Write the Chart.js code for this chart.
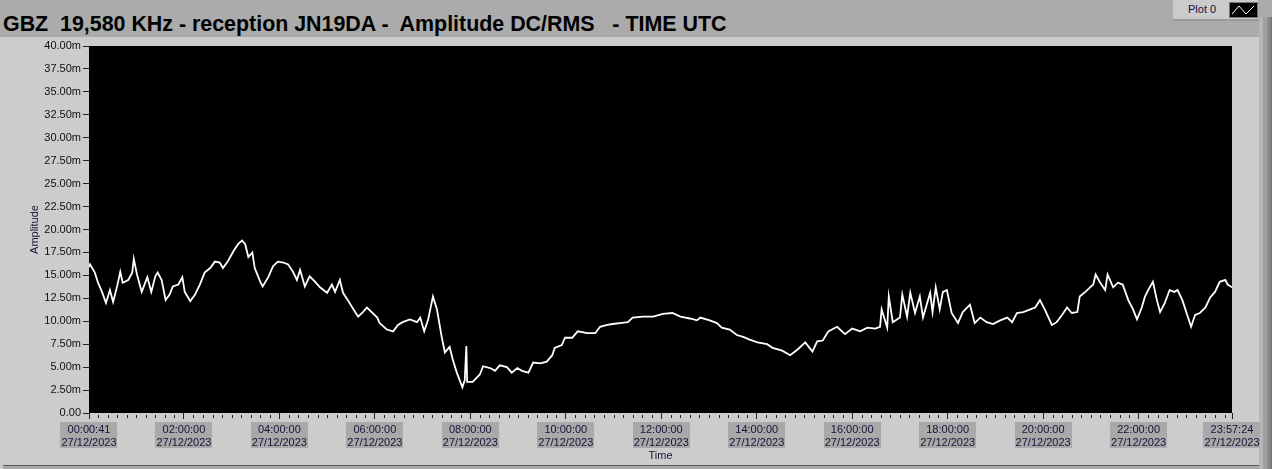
<!DOCTYPE html>
<html>
<head>
<meta charset="utf-8">
<script src="https://cdn.jsdelivr.net/npm/chart.js@4.4.1/dist/chart.umd.min.js"></script>
<style>
    body { margin: 0; width: 1272px; height: 469px; overflow: hidden; background: #cccccc; position: relative; font-family: "Liberation Sans", Arial, sans-serif; }
    #topbar { position: absolute; left: 0; top: 0; width: 1272px; height: 37px; background: #ababab; }
    #title { position: absolute; left: 3px; top: 12px; font-weight: bold; font-size: 21.4px; white-space: pre; color: #000; }
    #legendbox { position: absolute; left: 1173px; top: 0; width: 85px; height: 19px; background: #cbcbcb; border-bottom: 2px solid #9a9a9a; }
    #legendbox span { position: absolute; left: 15px; top: 3px; font-size: 11px; color: #101040; }
    #legendbox svg { position: absolute; left: 56px; top: 2px; }
    #rightstrip { position: absolute; left: 1259px; top: 17px; width: 13px; height: 452px; background: linear-gradient(to right, #b6b6b6 0 4px, #a0a0a0 4px 8px, #8c8c8c 8px 11px, #777 11px); }
    #bottomline { position: absolute; left: 3px; top: 465px; width: 1256px; height: 4px; background: linear-gradient(#5a5a5a 0 1px, #a8a8a8 1px); }
    #myChart { position: absolute; left: 0; top: 0; }
</style>
</head>
<body>
<div id="topbar"></div>
<div id="title">GBZ  19,580 KHz - reception JN19DA -  Amplitude DC/RMS   - TIME UTC</div>
<div id="legendbox"><span>Plot 0</span><svg width="29" height="16"><rect x="0.5" y="0.5" width="28" height="15" fill="#000" stroke="#777"/><polyline points="3,12 10,4 17,12 25,4" fill="none" stroke="#fff" stroke-width="1"/></svg></div>
<div id="rightstrip"></div>
<div id="bottomline"></div>
<canvas id="myChart" width="1272" height="469"></canvas>
<script>
// minutes after midnight (27/12/2023, UTC)
const times = [
    0.68, 2, 8, 12, 17, 22, 27, 31, 36, 40, 43, 50, 55, 57, 61, 67, 74, 79, 84, 87,
    92, 97, 102, 106, 113, 118, 121, 128, 134, 140, 146, 153, 159, 165, 169, 175, 182, 188, 193, 197,
    201, 206, 209, 216, 219, 226, 232, 238, 245, 251, 257, 262, 266, 272, 278, 285, 291, 300, 306, 310,
    316, 320, 326, 333, 339, 345, 350, 356, 363, 366, 375, 383, 389, 395, 404, 413, 417, 422, 427, 433,
    438, 444, 448, 454, 458, 463, 470, 473, 475, 476, 483, 492, 496, 505, 511, 517, 526, 532, 539, 545,
    553, 559, 568, 576, 583, 586, 595, 599, 608, 615, 627, 637, 643, 652, 659, 668, 678, 684, 697, 710,
    722, 734, 744, 756, 765, 769, 781, 790, 796, 806, 815, 823, 831, 841, 853, 860, 872, 882, 891, 901,
    910, 916, 923, 930, 941, 951, 960, 970, 979, 989, 995, 997, 1004, 1006, 1011, 1020, 1023, 1029, 1033, 1039,
    1045, 1049, 1058, 1061, 1065, 1070, 1074, 1079, 1085, 1093, 1099, 1108, 1114, 1121, 1129, 1137, 1146, 1155, 1161, 1167,
    1175, 1184, 1190, 1196, 1202, 1211, 1217, 1224, 1230, 1236, 1243, 1246, 1253, 1259, 1263, 1266, 1271, 1278, 1281, 1288,
    1294, 1300, 1307, 1313, 1318, 1324, 1328, 1332, 1338, 1343, 1347, 1353, 1359, 1365, 1369, 1375, 1381, 1386, 1391, 1397,
    1404, 1410, 1416, 1422, 1429, 1432, 1437.4
];

// amplitude, in milli units (15.9 -> 15.9m)
const amplitude = [
    15.9, 16.2, 15.3, 14.2, 13.2, 12.0, 13.4, 12.1, 13.8, 15.4, 14.2, 14.5, 15.3, 16.8, 15.1, 13.2, 14.8, 13.2, 14.9, 15.3,
    14.5, 12.3, 12.9, 13.8, 14.0, 14.8, 13.2, 12.2, 12.9, 14.0, 15.3, 15.8, 16.5, 16.4, 15.8, 16.5, 17.6, 18.4, 18.8, 18.4,
    17.0, 17.5, 15.8, 14.3, 13.8, 14.8, 16.0, 16.5, 16.4, 16.2, 15.4, 14.5, 15.6, 13.8, 14.9, 14.3, 13.7, 13.1, 14.0, 13.2,
    14.5, 13.1, 12.3, 11.3, 10.5, 11.0, 11.5, 11.0, 10.4, 9.8, 9.1, 8.9, 9.6, 9.9, 10.2, 9.9, 10.4, 8.9, 10.2, 12.7,
    11.3, 8.3, 6.6, 7.2, 5.8, 4.4, 2.8, 3.6, 7.3, 3.4, 3.4, 4.2, 5.1, 4.9, 4.6, 5.2, 5.0, 4.4, 4.9, 4.6,
    4.4, 5.5, 5.4, 5.6, 6.3, 7.1, 7.4, 8.2, 8.2, 8.9, 8.7, 8.7, 9.4, 9.6, 9.7, 9.8, 9.9, 10.4, 10.5, 10.5,
    10.8, 10.9, 10.5, 10.3, 10.1, 10.4, 10.1, 9.8, 9.3, 9.1, 8.5, 8.3, 8.0, 7.7, 7.5, 7.1, 6.8, 6.3, 6.9, 7.7,
    6.7, 7.8, 7.9, 8.9, 9.4, 8.6, 9.2, 8.9, 9.3, 9.2, 9.4, 11.3, 9.3, 12.7, 9.9, 10.4, 12.9, 10.5, 13.1, 10.9,
    12.7, 10.4, 13.1, 11.0, 13.7, 11.3, 13.2, 13.4, 10.9, 9.8, 11.0, 11.8, 9.8, 10.4, 9.9, 9.7, 10.1, 10.4, 9.9, 10.9,
    11.0, 11.3, 11.5, 12.3, 11.3, 9.6, 9.9, 10.7, 11.5, 10.9, 11.0, 12.7, 13.2, 13.7, 14.0, 15.1, 14.3, 13.4, 15.1, 13.7,
    14.2, 14.0, 12.3, 11.3, 10.2, 11.5, 12.7, 13.4, 14.3, 12.3, 11.0, 12.0, 13.4, 13.2, 13.4, 12.3, 10.7, 9.4, 10.7, 10.9,
    11.5, 12.6, 13.2, 14.3, 14.5, 14.0, 13.7
];

// labelled ticks on the time axis (minutes)
const timeTicks = [0.68, 120, 240, 360, 480, 600, 720, 840, 960, 1080, 1200, 1320, 1437.4];
const timeLabels = ["00:00:41", "02:00:00", "04:00:00", "06:00:00", "08:00:00", "10:00:00", "12:00:00",
    "14:00:00", "16:00:00", "18:00:00", "20:00:00", "22:00:00", "23:57:24"];
const dateLabel = "27/12/2023";
const yMin = 0;
const yMax = 40;
const yStep = 2.5;
const minorStep = 12; // minutes between small ticks

function init() {
    const canvas = document.getElementById("myChart");
    const textColor = "#14143a";
    const tickFont = { family: "Liberation Sans", size: 11 };

    // black plot area, grey boxes behind time labels, small ticks under the time axis
    const plotArea = {
        id: "plotArea",
        beforeDraw(chart) {
            const { ctx, chartArea } = chart;
            const x = chart.scales.x;
            ctx.save();
            ctx.fillStyle = "#000";
            ctx.fillRect(chartArea.left, chartArea.top, chartArea.right - chartArea.left, chartArea.bottom - chartArea.top);

            ctx.font = "11px 'Liberation Sans'";
            ctx.fillStyle = "#a9a9a9";
            timeTicks.forEach((t, i) => {
                const w = Math.max(ctx.measureText(timeLabels[i]).width, ctx.measureText(dateLabel).width) + 2;
                const cx = x.getPixelForValue(t);
                ctx.fillRect(Math.round(cx - w / 2), chartArea.bottom + 9, Math.round(w), 26);
            });
            ctx.restore();
        },
        afterDraw(chart) {
            const { ctx, chartArea } = chart;
            const x = chart.scales.x;
            ctx.save();
            ctx.strokeStyle = "#222";
            ctx.lineWidth = 1;
            for (let m = minorStep; m < x.max; m += minorStep) {
                if (m % 120 === 0) continue;
                const px = Math.round(x.getPixelForValue(m)) + 0.5;
                ctx.beginPath();
                ctx.moveTo(px, chartArea.bottom + 2);
                ctx.lineTo(px, chartArea.bottom + 5);
                ctx.stroke();
            }
            ctx.restore();
        }
    };

    const points = times.map((t, i) => ({ x: t, y: amplitude[i] }));

    new Chart(canvas, {
        type: "line",
        data: {
            datasets: [{
                label: "Plot 0",
                data: points,
                borderColor: "#ffffff",
                borderWidth: 1.8,
                pointRadius: 0,
                tension: 0
            }]
        },
        options: {
            responsive: false,
            animation: false,
            layout: { padding: { left: 0, right: 40, top: 46, bottom: 0 } },
            plugins: {
                legend: { display: false },
                tooltip: { enabled: false }
            },
            scales: {
                x: {
                    type: "linear",
                    min: timeTicks[0],
                    max: timeTicks[timeTicks.length - 1],
                    afterBuildTicks: scale => { scale.ticks = timeTicks.map(v => ({ value: v })); },
                    afterFit: scale => { scale.height = 56; },
                    border: { display: false },
                    grid: { drawOnChartArea: false, tickLength: 6, tickColor: "#222", tickWidth: 1 },
                    ticks: {
                        autoSkip: false,
                        maxRotation: 0,
                        padding: 4,
                        color: textColor,
                        font: tickFont,
                        callback: v => [timeLabels[timeTicks.indexOf(v)], dateLabel]
                    },
                    title: {
                        display: true,
                        text: "Time",
                        color: textColor,
                        font: tickFont,
                        padding: { top: 0, bottom: 6 }
                    }
                },
                y: {
                    min: yMin,
                    max: yMax,
                    afterFit: scale => { scale.width = 89; },
                    border: { display: false },
                    grid: { drawOnChartArea: false, tickLength: 6, tickColor: "#222" },
                    ticks: {
                        stepSize: yStep,
                        padding: 2,
                        color: "#101010",
                        font: tickFont,
                        callback: v => v === 0 ? "0.00" : v.toFixed(2) + "m"
                    },
                    title: {
                        display: true,
                        text: "Amplitude",
                        color: textColor,
                        font: tickFont,
                        padding: { top: 28, bottom: 0 }
                    }
                }
            }
        },
        plugins: [plotArea]
    });
}

document.addEventListener("DOMContentLoaded", init);
</script>
</body>
</html>
